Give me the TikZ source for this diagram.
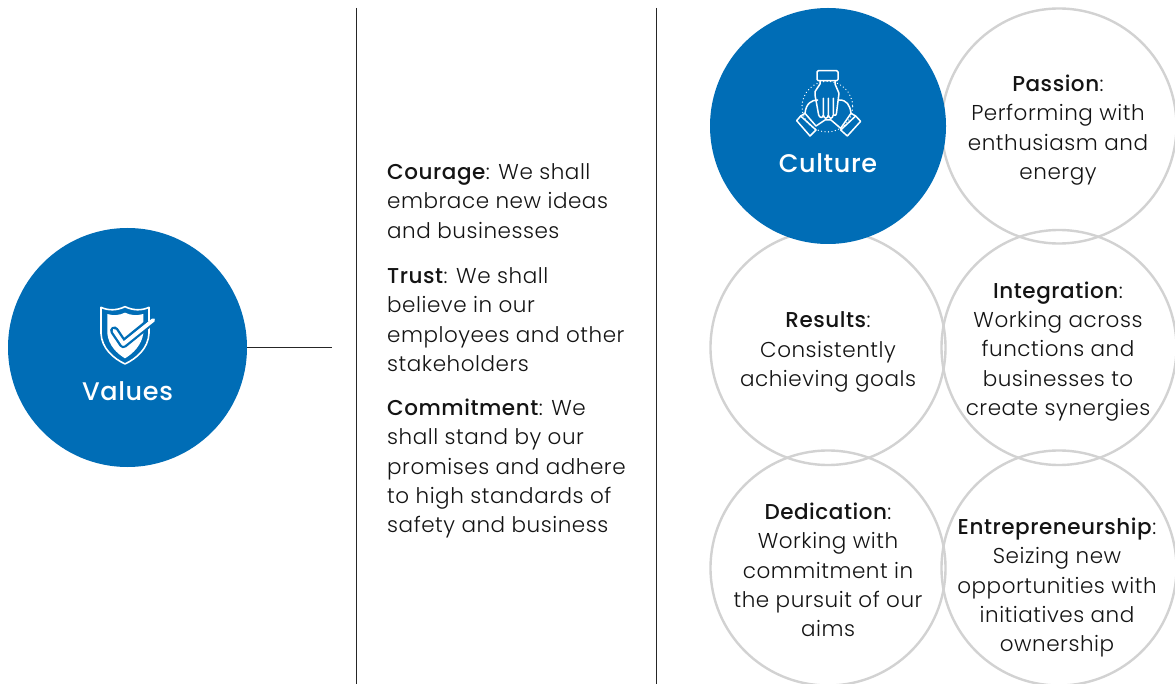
\documentclass[tikz,border=0pt]{standalone}
\usepackage{fontspec}
\setmainfont{Poppins Light}[BoldFont={Poppins Medium},LetterSpace=2.5]
\definecolor{brandblue}{HTML}{006DB6}
\definecolor{ringgrey}{HTML}{D2D2D2}
\tikzset{
  x=1pt,y=-1pt,
  bluedisc/.style={circle,fill=brandblue,draw=none,inner sep=0pt,minimum size=#1},
  ring/.style={circle,draw=ringgrey,line width=2.4pt,inner sep=0pt,minimum size=235pt},
  rule/.style={draw=black!85,line width=0.9pt},
  bodytext/.style={font=\fontsize{21.5}{29.4}\selectfont,text=black!92,inner sep=0pt},
  ringtext/.style={bodytext,align=center},
  sidetext/.style={bodytext,align=left,anchor=west},
  disclabel/.style={font=\fontsize{25.5}{30}\selectfont\bfseries,text=white,inner sep=0pt},
  icon/.style={draw=white,line width=1.5pt,line join=round,line cap=round,fill=none}
}
\begin{document}
\begin{tikzpicture}
\useasboundingbox (0,0) rectangle (1175,684);
\fill[white] (0,0) rectangle (1175,684);
\coordinate (r1t) at (356.5,8); \coordinate (r1b) at (356.5,684);
\coordinate (r2t) at (656.5,8); \coordinate (r2b) at (656.5,684);
\coordinate (stub) at (332,347.5);
\draw[rule] (r1t) -- (r1b);
\draw[rule] (r2t) -- (r2b);
\node[bluedisc=239pt] (values) at (127.5,347.5) {};
\draw[rule] (values.east) -- (stub);
\node[disclabel] (valuestxt) at (127.5,391) {Values};
% shield
\begin{scope}[shift={(80,290)},x=0.3333pt,y=-0.3333pt]
\path[draw=white,line width=1.6pt,line join=round] (135,50) .. controls (110,62) and (85,62) .. (63,52) -- (63,130) .. controls (65,175) and (100,205) .. (135,222) .. controls (170,205) and (205,175) .. (207,130) -- (207,52) .. controls (185,62) and (160,62) .. (135,50) -- cycle;
\fill[white] (135,68) .. controls (118,76) and (100,78) .. (82,72) -- (82,130) .. controls (85,165) and (110,190) .. (135,205) .. controls (160,190) and (185,165) .. (190,130) -- (190,72) .. controls (170,78) and (152,76) .. (135,68) -- cycle;
\draw[brandblue,line width=8.5pt,line cap=round,line join=round] (103,122) -- (130,162) -- (200,105);
\draw[white,line width=3.8pt,line cap=round,line join=round] (103,122) -- (130,162) -- (220,90);
\end{scope}
% culture
\node[ring] (passion) at (1059,126) {};
\node[ring] (results) at (828,347.5) {};
\node[ring] (integration) at (1059,347.5) {};
\node[ring] (dedication) at (828,568) {};
\node[ring] (entre) at (1059,568) {};
\node[bluedisc=236pt] (culture) at (828,126) {};
\node[disclabel] (culturetxt) at (828,163) {Culture};
% hands icon
\begin{scope}[shift={(770,50)},x=0.3333pt,y=-0.3333pt]
\draw[icon] (145,62) -- (200,62) -- (204,66) -- (204,88) -- (200,92) -- (145,92) -- (141,88) -- (141,66) -- cycle;
\draw[icon] (150,92) -- (150,102) -- (135,125) -- (135,135) -- (146,195) .. controls (150,205) and (158,205) .. (160,195) -- (160,145) (160,195) .. controls (163,208) and (172,208) .. (175,195) -- (175,145) (175,195) .. controls (178,208) and (187,208) .. (190,195) -- (190,145) (190,195) .. controls (195,200) and (200,195) .. (200,185) -- (207,130) -- (195,102) -- (195,92);
\draw[icon] (143,150) .. controls (125,150) and (108,160) .. (105,190) -- (92,198);
\draw[icon] (208,150) .. controls (230,150) and (240,165) .. (243,190) -- (257,198);
\draw[icon] (92,198) -- (80,212) -- (120,258) -- (138,240) -- cycle;
\draw[icon] (257,198) -- (272,214) -- (232,258) -- (212,240) -- cycle;
\draw[icon] (105,190) -- (138,228) -- (165,210) -- (183,210) -- (212,235) -- (243,190);
\draw[white,line width=1.3pt,dash pattern=on 0.1pt off 3.4pt,line cap=round] (172,170) circle [radius=76];
\end{scope}
\node[ringtext] (t1) at (1058,130) {\textbf{Passion}:\\Performing with\\enthusiasm and\\energy};
\node[ringtext] (t2) at (828,352) {\textbf{Results}:\\Consistently\\achieving goals};
\node[ringtext] (t3) at (1058,351.5) {\textbf{Integration}:\\Working across\\functions and\\businesses to\\create synergies};
\node[ringtext] (t4) at (828,570) {\textbf{Dedication}:\\Working with\\commitment in\\the pursuit of our\\aims};
\node[ringtext] (t5) at (1057,587.5) {\textbf{Entrepreneurship}:\\Seizing new\\opportunities with\\initiatives and\\ownership};
\node[sidetext] (s1) at (387,201) {\textbf{Courage}: We shall\\embrace new ideas\\and businesses};
\node[sidetext] (s2) at (387,319.5) {\textbf{Trust}: We shall\\believe in our\\employees and other\\stakeholders};
\node[sidetext] (s3) at (387,468.5) {\textbf{Commitment}: We\\shall stand by our\\promises and adhere\\to high standards of\\safety and business};
\end{tikzpicture}
\end{document}
